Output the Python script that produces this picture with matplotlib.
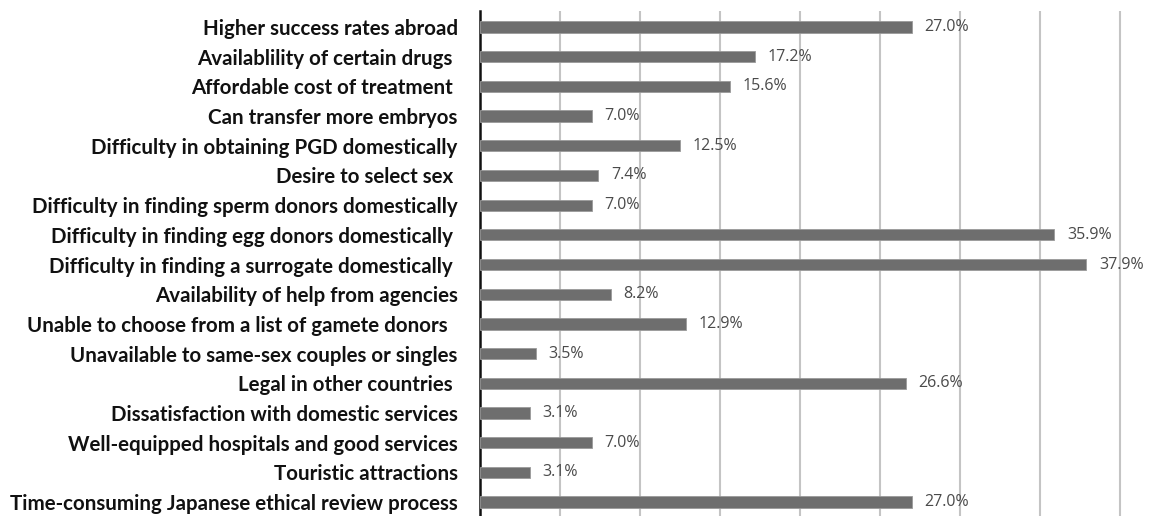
import matplotlib.pyplot as plt

reasons = [
    "Higher success rates abroad",
    "Availablility of certain drugs ",
    "Affordable cost of treatment ",
    "Can transfer more embryos",
    "Difficulty in obtaining PGD domestically",
    "Desire to select sex ",
    "Difficulty in finding sperm donors domestically",
    "Difficulty in finding egg donors domestically ",
    "Difficulty in finding a surrogate domestically ",
    "Availability of help from agencies",
    "Unable to choose from a list of gamete donors  ",
    "Unavailable to same-sex couples or singles",
    "Legal in other countries ",
    "Dissatisfaction with domestic services",
    "Well-equipped hospitals and good services",
    "Touristic attractions",
    "Time-consuming Japanese ethical review process",
]
percent = [27.0, 17.2, 15.6, 7.0, 12.5, 7.4, 7.0, 35.9, 37.9,
           8.2, 12.9, 3.5, 26.6, 3.1, 7.0, 3.1, 27.0]

W, H = 1149, 516
fig = plt.figure(figsize=(W / 100, H / 100), dpi=100)
left, right = 480 / W, (480 + 41 * 16) / W
ax = fig.add_axes([left, 0, right - left, 1 - 11 / H])

pos = list(range(len(reasons)))
ax.barh(pos, percent, height=0.38, color="#6e6e6e", edgecolor="#9a9a9a",
        linewidth=0.6, zorder=3)

for y, v in zip(pos, percent):
    ax.annotate(f"{v:.1f}%", (v, y), xytext=(9, 0), textcoords="offset points",
                va="center", ha="left", fontsize=11.5, color="#4a4a4a",
                family="Open Sans", zorder=4)

ax.set_xlim(0, 41)
ax.set_ylim(len(reasons) - 0.53, -0.54)
ax.set_xticks(range(5, 41, 5))
ax.set_xticklabels([])
ax.tick_params(axis="x", length=0)
ax.grid(axis="x", color="#c4c4c4", linewidth=1.5, zorder=0)

ax.set_yticks(pos)
ax.set_yticklabels(reasons, fontsize=14.8, family="Lato", fontweight="bold",
                   color="#111111")
ax.tick_params(axis="y", length=0, pad=16)

for side in ("top", "right", "bottom"):
    ax.spines[side].set_visible(False)
ax.spines["left"].set_linewidth(1.8)
ax.spines["left"].set_color("#111111")

fig.savefig("out.png", dpi=100)
